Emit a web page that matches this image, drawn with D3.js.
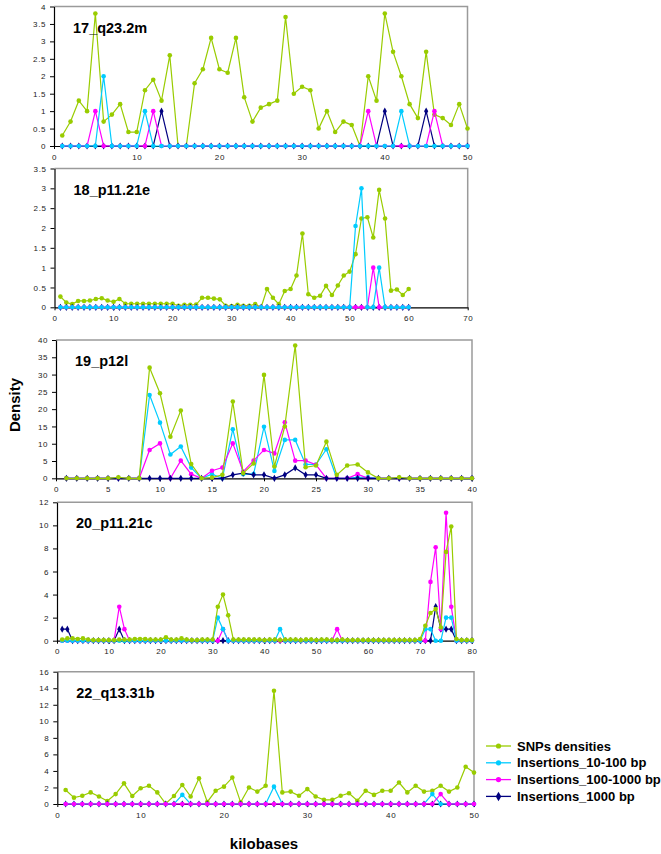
<!DOCTYPE html>
<html>
<head>
<meta charset="utf-8">
<script src="https://cdnjs.cloudflare.com/ajax/libs/d3/7.8.5/d3.min.js"></script>
<style>
  body { margin: 0; background: #ffffff; }
  text { font-family: "Liberation Sans", Arial, sans-serif; }
</style>
</head>
<body>
<div id="chart"></div>
<script>
// ---- data (kilobase positions start at 1) ----
const snp17 = [0.3,0.7,1.3,1.0,3.8,0.7,0.9,1.2,0.4,0.4, 1.6,1.9,1.3,2.6,0,0,1.8,2.2,3.1,2.2,
               2.1,3.1,1.4,0.7,1.1,1.2,1.3,3.7,1.5,1.7, 1.6,0.5,1.0,0.4,0.7,0.6,0,2.0,1.3,3.8,
               2.7,2.0,1.2,0.8,2.7,0.9,0.8,0.6,1.2,0.5];
const ins10_17 = [0,0,0,0,0,2,0,0,0,0, 1,0,0,0,0,0,0,0,0,0, 0,0,0,0,0,0,0,0,0,0,
                  0,0,0,0,0,0,0,0,0,0, 0,1,0,0,0,0,0,0,0,0];
const ins100_17 = [0,0,0,0,1,0,0,0,0,0, 0,1,0,0,0,0,0,0,0,0, 0,0,0,0,0,0,0,0,0,0,
                   0,0,0,0,0,0,0,1,0,0, 0,0,0,0,0,1,0,0,0,0];
const ins1000_17 = [0,0,0,0,0,0,0,0,0,0, 0,0,1,0,0,0,0,0,0,0, 0,0,0,0,0,0,0,0,0,0,
                    0,0,0,0,0,0,0,0,0,1, 0,0,0,0,1,0,0,0,0,0];

const snp18 = [0.27,0.12,0.08,0.16,0.16,0.17,0.21,0.23,0.17,0.14, 0.21,0.09,0.09,0.09,0.09,0.09,0.09,0.09,0.09,0.09,
               0.04,0.06,0.06,0.07,0.24,0.24,0.22,0.2,0.04,0.03, 0.06,0.04,0.04,0.08,0,0.46,0.24,0.08,0.41,0.46,
               0.8,1.86,0.33,0.24,0.29,0.54,0.31,0.55,0.8,0.9, 1.34,2.24,2.27,1.76,2.96,2.24,0.42,0.45,0.31,0.46];
const ins10_18 = [0,0,0,0,0,0,0,0,0,0, 0,0,0,0,0,0,0,0,0,0, 0,0,0,0,0,0,0,0,0,0,
                  0,0,0,0,0,0,0,0,0,0, 0,0,0,0,0,0,0,0,0,0, 2.05,3.0,0,0,1.0,0,0,0,0,0];
const ins100_18 = [0,0,0,0,0,0,0,0,0,0, 0,0,0,0,0,0,0,0,0,0, 0,0,0,0,0,0,0,0,0,0,
                   0,0,0,0,0,0,0,0,0,0, 0,0,0,0,0,0,0,0,0,0, 0,0,0,1.0,0,0,0,0,0,0];
const ins1000_18 = [0,0,0,0,0,0,0,0,0,0, 0,0,0,0,0,0,0,0,0,0, 0,0,0,0,0,0,0,0,0,0,
                    0,0,0,0,0,0,0,0,0,0, 0,0,0,0,0,0,0,0,0,0, 0,0,0,0,0,0,0,0,0,0];

const snp19 = [0,0,0,0,0,0.3,0,0,32,24.6, 12,19.6,4.1,0,0.2,1,22.2,1.5,4.3,29.9,
               3.4,15,38.4,3.2,3.7,10.6,1.0,3.7,4.0,1.7, 0,0,0.3,0,0,0,0,0,0,0];
const ins10_19 = [0,0,0,0,0,0,0,0,24.1,16.1, 6.9,9.2,3.1,0,1.2,0,14.2,1.2,1.2,14.9,
                  2.1,11.1,11.1,4.0,4.0,8.4,0,0,0.3,0.3, 0,0,0,0,0,0,0,0,0,0];
const ins100_19 = [0,0,0,0,0,0,0,0,8.2,10.1, 0,5.1,1.2,0,2.2,3.1,10.1,1.9,5.1,8.2,
                   7.2,16.2,5.1,5.1,3.9,0,0,0,1.2,0, 0,0,0,0,0,0,0,0,0,0];
const ins1000_19 = [0,0,0,0,0,0,0,0,0,0, 0,0,0,0,0,0,1.0,1.5,1.0,1.0,
                    0,1.0,3.0,1.0,1.0,0,0,0,0,0, 0,0,0,0,0,0,0,0,0,0];

const snp20 = [0.1,0.2,0.2,0.15,0.2,0.1,0.05,0.05,0.05,0.05, 0.05,0.1,0.1,0.1,0.15,0.15,0.15,0.1,0.1,0.1,
               0.3,0.1,0.1,0.2,0.1,0.05,0.05,0.1,0.1,0.1, 2.95,4.0,2.2,0.1,0.1,0.1,0.1,0.1,0.1,0.05,
               0.1,0.1,0.05,0.1,0.1,0.1,0.05,0.1,0.1,0.05, 0.1,0.1,0.05,0.05,0.1,0.05,0.05,0.05,0.05,0.05,
               0.05,0.05,0.05,0.05,0.05,0.05,0.05,0.05,0.05,0.15, 1.3,2.4,2.75,1.15,7.7,9.9,0.15,0.05,0.05,0.05];
const ins10_20 = [0,0,0,0,0,0,0,0,0,0, 0,0,0,0,0,0,0,0,0,0, 0,0,0,0,0,0,0,0,0,0,
                  2.0,1.0,0,0,0,0,0,0,0,0, 0,0,1.0,0,0,0,0,0,0,0, 0,0,0,0,0,0,0,0,0,0,
                  0,0,0,0,0,0,0,0,0,0, 1.0,1.0,0,0,2.0,2.0,0,0,0,0];
const ins100_20 = [0,0,0,0,0,0,0,0,0,0, 0,2.95,1.0,0,0,0,0,0,0,0, 0,0,0,0,0,0,0,0,0,0,
                   0,1.0,0,0,0,0,0,0,0,0, 0,0,0,0,0,0,0,0,0,0, 0,0,0,1.0,0,0,0,0,0,0,
                   0,0,0,0,0,0,0,0,0,0, 0,5.1,8.1,1.0,11.1,2.95,0,0,0,0];
const ins1000_20 = [1.0,1.0,0,0,0,0,0,0,0,0, 0,1.0,0,0,0,0,0,0,0,0, 0,0,0,0,0,0,0,0,0,0,
                    0,0,0,0,0,0,0,0,0,0, 0,0,0,0,0,0,0,0,0,0, 0,0,0,0,0,0,0,0,0,0,
                    0,0,0,0,0,0,0,0,0,0, 0,0,2.95,1.0,1.0,1.0,0,0,0,0];

const snp22 = [1.7,0.77,1.0,1.4,0.9,0.36,1.2,2.5,0.97,1.9, 2.2,1.4,0.05,0.97,2.3,0.9,3.1,0.25,1.6,2.1,
               3.2,0.2,2.0,1.5,2.2,13.7,1.4,1.5,1.0,1.8, 0.9,0.5,0.5,1.0,1.3,0.4,1.6,1.1,1.6,1.6,
               2.6,1.4,2.2,1.5,1.6,2.2,1.5,2.0,4.5,3.8];
const ins10_22 = [0,0,0,0,0,0,0,0,0,0, 0,0,0,0,1.1,0,0,0,0,0, 0,0,0,0,0,2.1,0,0,0,0,
                  0,0,0,0,0,0,0,0,0,0, 0,0,0,0,1.2,0,0,0,0,0];
const ins100_22 = [0,0,0,0,0,0,0,0,0,0, 0,0,0,0,0,0,0,0,0,0, 0,0,0,0,0,0,0,0,0,0,
                   0,0,0,0,0,0,0,0,0,0, 0,0,0,0,0,1.2,0,0,0,0];
const ins1000_22 = [0,0,0,0,0,0,0,0,0,0, 0,0,0,0,0,0,0,0,0,0, 0,0,0,0,0,0,0,0,0,0,
                    0,0,0,0,0,0,0,0,0,0, 0,0,0,0,0,0,0,0,0,0];

// tick labels
const xTicks17 = [0,10,20,30,40,50];
const yTicks17 = [0,0.5,1,1.5,2,2.5,3,3.5,4];
const xTicks18 = [0,10,20,30,40,50,60,70];
const yTicks18 = [0,0.5,1,1.5,2,2.5,3,3.5];
const xTicks19 = [0,5,10,15,20,25,30,35,40];
const yTicks19 = [0,5,10,15,20,25,30,35,40];
const xTicks20 = [0,10,20,30,40,50,60,70,80];
const yTicks20 = [0,2,4,6,8,10,12];
const xTicks22 = [0,10,20,30,40,50];
const yTicks22 = [0,2,4,6,8,10,12,14,16];

const seriesNames = ["SNPs densities", "Insertions_10-100 bp", "Insertions_100-1000 bp", "Insertions_1000 bp"];
const seriesColors = ["#99cc00", "#00ccff", "#ff00ff", "#000080"];

// panel layout (pixel boxes of each plot area), order = drawing order of the series
const panels = [
  { title: "17_q23.2m", data: [snp17, ins10_17, ins100_17, ins1000_17], xTicks: xTicks17, yTicks: yTicks17,
    left: 54, right: 467.5, top: 6.5, bottom: 146, order: [0, 3, 2, 1] },
  { title: "18_p11.21e", data: [snp18, ins10_18, ins100_18, ins1000_18], xTicks: xTicks18, yTicks: yTicks18,
    left: 54.5, right: 467.7, top: 168.5, bottom: 307.3, order: [0, 3, 2, 1] },
  { title: "19_p12l", data: [snp19, ins10_19, ins100_19, ins1000_19], xTicks: xTicks19, yTicks: yTicks19,
    left: 56, right: 472, top: 340, bottom: 478.3, order: [1, 2, 3, 0] },
  { title: "20_p11.21c", data: [snp20, ins10_20, ins100_20, ins1000_20], xTicks: xTicks20, yTicks: yTicks20,
    left: 57, right: 472, top: 502.3, bottom: 640.7, order: [3, 2, 1, 0] },
  { title: "22_q13.31b", data: [snp22, ins10_22, ins100_22, ins1000_22], xTicks: xTicks22, yTicks: yTicks22,
    left: 57.3, right: 474, top: 671.7, bottom: 804, order: [0, 3, 1, 2] }
];

const svg = d3.select("#chart")
  .append("svg")
  .attr("width", 661)
  .attr("height", 854);

panels.forEach(function (p) {
  const x = d3.scaleLinear()
    .domain([0, p.xTicks[p.xTicks.length - 1]])
    .range([p.left, p.right]);
  const y = d3.scaleLinear()
    .domain([0, p.yTicks[p.yTicks.length - 1]])
    .range([p.bottom, p.top]);

  const g = svg.append("g");

  // gray frame on top and right
  g.append("path")
    .attr("d", `M${p.left},${p.top}H${p.right}V${p.bottom}`)
    .attr("fill", "none")
    .attr("stroke", "#9a9a9a")
    .attr("stroke-width", 1.5);

  // y axis
  const ya = g.append("g")
    .attr("transform", `translate(${p.left},0)`)
    .call(d3.axisLeft(y).tickValues(p.yTicks).tickFormat(d3.format("~g")).tickSize(4).tickPadding(4).tickSizeOuter(0));
  // x axis
  const xa = g.append("g")
    .attr("transform", `translate(0,${p.bottom})`)
    .call(d3.axisBottom(x).tickValues(p.xTicks).tickFormat(d3.format("~g")).tickSize(3).tickPadding(5).tickSizeOuter(0));

  [ya, xa].forEach(function (a) {
    a.select(".domain").attr("stroke", "#000").attr("stroke-width", 1.2);
    a.selectAll(".tick line").attr("stroke", "#000");
    a.selectAll(".tick text")
      .attr("fill", "#222")
      .style("font-size", "8px")
      .style("letter-spacing", "0.6px")
      .style("font-family", "'Liberation Sans', Arial, sans-serif");
  });

  // series
  p.order.forEach(function (s) {
    const vals = p.data[s].map(function (v, i) { return { k: i + 1, v: v }; });
    const line = d3.line()
      .x(function (d) { return x(d.k); })
      .y(function (d) { return y(d.v); });
    const sg = g.append("g");
    sg.append("path")
      .datum(vals)
      .attr("d", line)
      .attr("fill", "none")
      .attr("stroke", seriesColors[s])
      .attr("stroke-width", 1.2);
    if (s === 3) {
      sg.selectAll("path.mk")
        .data(vals)
        .enter()
        .append("path")
          .attr("class", "mk")
          .attr("d", d3.symbol().type(d3.symbolDiamond).size(15))
          .attr("transform", function (d) { return `translate(${x(d.k)},${y(d.v)})`; })
          .attr("fill", seriesColors[s]);
    } else {
      sg.selectAll("circle")
        .data(vals)
        .enter()
        .append("circle")
          .attr("cx", function (d) { return x(d.k); })
          .attr("cy", function (d) { return y(d.v); })
          .attr("r", 2.3)
          .attr("fill", seriesColors[s]);
    }
  });

  // panel title
  g.append("text")
    .attr("x", p.left + 19)
    .attr("y", p.top + 26)
    .text(p.title)
    .style("font-size", "14.5px")
    .style("font-weight", "bold")
    .attr("fill", "#000");
});

// axis titles
svg.append("text")
  .attr("text-anchor", "middle")
  .attr("transform", "translate(20,405) rotate(-90)")
  .text("Density")
  .style("font-size", "15px")
  .style("font-weight", "bold");

svg.append("text")
  .attr("text-anchor", "middle")
  .attr("x", 264)
  .attr("y", 849)
  .text("kilobases")
  .style("font-size", "15px")
  .style("font-weight", "bold");

// legend
const legend = svg.append("g").attr("transform", "translate(486,746)");
seriesNames.forEach(function (name, i) {
  const row = legend.append("g").attr("transform", `translate(0,${i * 16.8})`);
  row.append("line")
    .attr("x1", 0).attr("x2", 25)
    .attr("y1", 0).attr("y2", 0)
    .attr("stroke", seriesColors[i])
    .attr("stroke-width", 1.3);
  if (i === 3) {
    row.append("path")
      .attr("d", d3.symbol().type(d3.symbolDiamond).size(26))
      .attr("transform", "translate(12.5,0)")
      .attr("fill", seriesColors[i]);
  } else {
    row.append("circle")
      .attr("cx", 12.5).attr("cy", 0).attr("r", 2.6)
      .attr("fill", seriesColors[i]);
  }
  row.append("text")
    .attr("x", 31)
    .attr("y", 4.6)
    .text(name)
    .style("font-size", "13px")
    .style("font-weight", "bold");
});
</script>
</body>
</html>
